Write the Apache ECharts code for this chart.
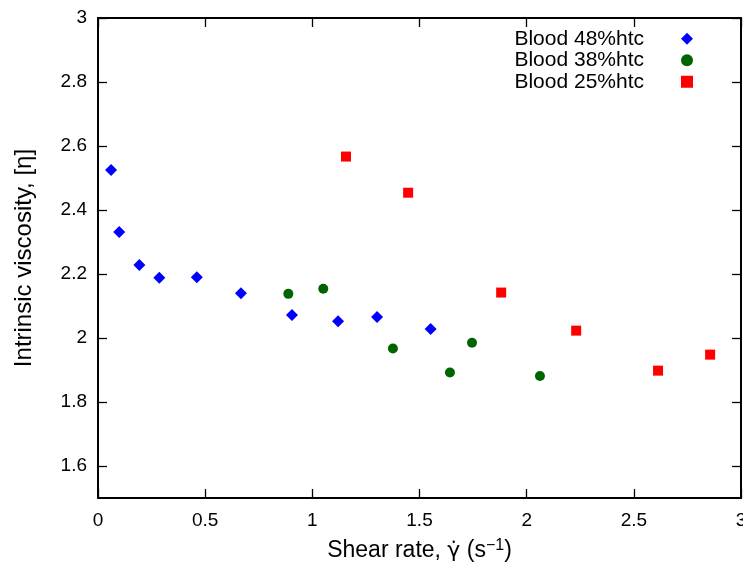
<!DOCTYPE html>
<html>
<head>
<meta charset="utf-8">
<script src="https://cdn.jsdelivr.net/npm/echarts@6/dist/echarts.min.js"></script>
<style>html,body{margin:0;padding:0;background:#fff;}#c{width:743px;height:565px;}</style>
</head>
<body>
<div id="c"></div>
<script>
const seriesNames = ['Blood 48%htc', 'Blood 38%htc', 'Blood 25%htc'];
const blood48 = [[0.061,2.525],[0.099,2.331],[0.193,2.228],[0.286,2.188],[0.461,2.190],[0.667,2.140],[0.905,2.072],[1.120,2.052],[1.302,2.066],[1.552,2.028]];
const blood38 = [[0.888,2.138],[1.051,2.154],[1.376,1.967],[1.642,1.892],[1.745,1.985],[2.062,1.881]];
const blood25 = [[1.157,2.567],[1.447,2.454],[1.881,2.142],[2.231,2.023],[2.613,1.898],[2.856,1.948]];
const xTicks = [0, 0.5, 1, 1.5, 2, 2.5, 3];
const yTicks = [1.6, 1.8, 2, 2.2, 2.4, 2.6, 2.8, 3];

const font = 'Liberation Sans, Arial, Helvetica, sans-serif';
const chart = echarts.init(document.getElementById('c'), null, {renderer:'canvas'});
function line(){ return {show:true, onZero:false, lineStyle:{color:'#000', width:2}}; }
function tick(vals){ return {show:true, inside:true, length:9, customValues:vals, lineStyle:{color:'#000', width:1.3}}; }
chart.setOption({
  animation:false,
  backgroundColor:'#fff',
  grid:{left:98, right:2, top:18, bottom:67, containLabel:false, outerBoundsMode:'none'},
  legend:{
    orient:'vertical', right:45, top:23, align:'right', itemGap:0,
    itemWidth:12, itemHeight:12,
    textStyle:{fontFamily:font, fontSize:21, color:'#000', lineHeight:21.5, padding:[0,32,0,0]},
    data:seriesNames
  },
  xAxis:[{
    type:'value', min:0, max:3, position:'bottom',
    axisLine:line(), axisTick:tick(xTicks), splitLine:{show:false},
    axisLabel:{fontFamily:font, fontSize:19, color:'#000', margin:13, customValues:xTicks},
    name:'Shear rate, {g|γ̇} (s{sup|−1})', nameLocation:'middle', nameGap:40,
    nameTextStyle:{fontFamily:font, fontSize:23, color:'#000',
      rich:{g:{fontFamily:'DejaVu Sans', fontSize:22, color:'#000'}, sup:{fontFamily:font, fontSize:16, color:'#000', verticalAlign:'top', padding:[0,0,10,0]}}}
  },{
    type:'value', min:0, max:3, position:'top',
    axisLine:line(), axisTick:tick(xTicks), axisLabel:{show:false, customValues:xTicks}, splitLine:{show:false}
  }],
  yAxis:[{
    type:'value', min:1.5, max:3, position:'left',
    axisLine:line(), axisTick:tick(yTicks), splitLine:{show:false},
    axisLabel:{fontFamily:font, fontSize:19, color:'#000', margin:11, customValues:yTicks},
    name:'Intrinsic viscosity, [η]', nameLocation:'middle', nameGap:62, nameRotate:90,
    nameTextStyle:{fontFamily:font, fontSize:24, color:'#000'}
  },{
    type:'value', min:1.5, max:3, position:'right',
    axisLine:line(), axisTick:tick(yTicks), axisLabel:{show:false, customValues:yTicks}, splitLine:{show:false}
  }],
  series:[
    {name:seriesNames[0], type:'scatter', symbol:'diamond', symbolSize:12, itemStyle:{color:'#0000ff', opacity:1}, data:blood48},
    {name:seriesNames[1], type:'scatter', symbol:'circle', symbolSize:10, itemStyle:{color:'#006400', opacity:1}, data:blood38},
    {name:seriesNames[2], type:'scatter', symbol:'rect', symbolSize:10, itemStyle:{color:'#ff0000', opacity:1}, data:blood25}
  ]
});
</script>
</body>
</html>
